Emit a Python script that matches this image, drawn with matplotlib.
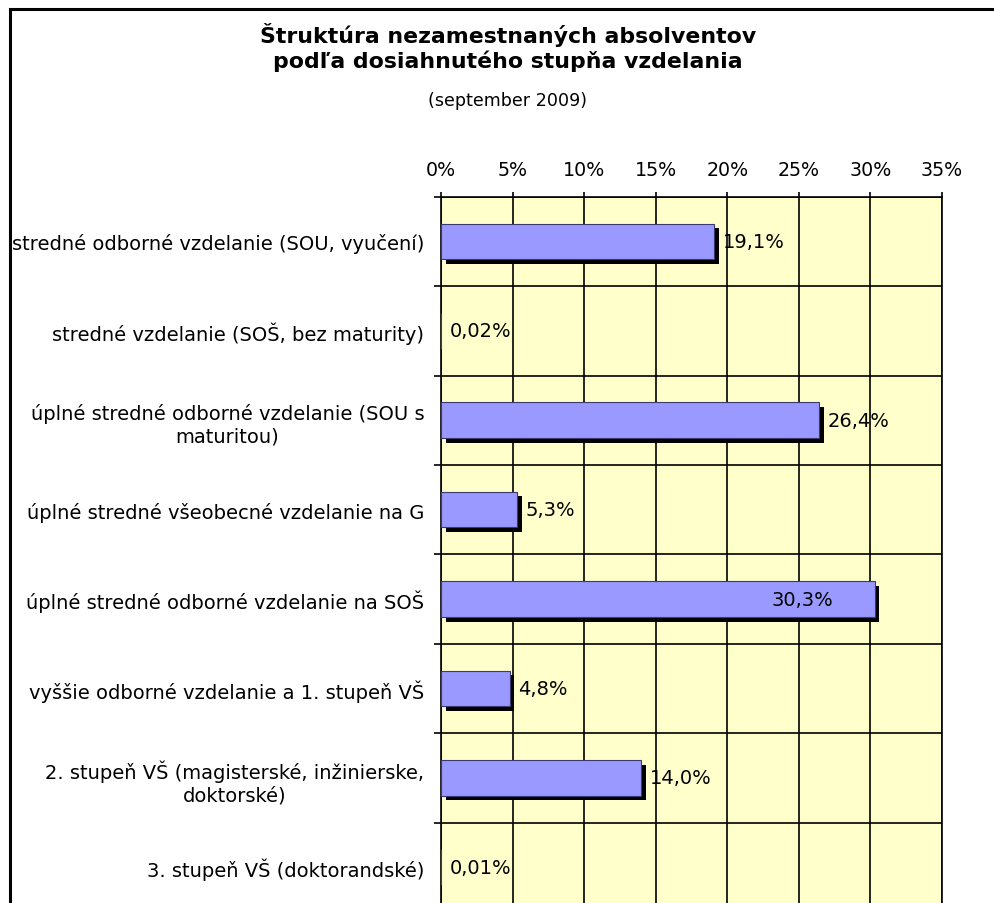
import matplotlib
matplotlib.use("Agg")
import matplotlib.pyplot as plt
import matplotlib.patheffects as pe
from matplotlib.patches import Rectangle
from matplotlib.ticker import FixedLocator, FuncFormatter
import numpy as np

plt.rcParams['font.family'] = ['DejaVu Sans']

categories = [
    "stredné odborné vzdelanie (SOU, vyučení)",
    "stredné vzdelanie (SOŠ, bez maturity)",
    "úplné stredné odborné vzdelanie (SOU s\nmaturitou)",
    "úplné stredné všeobecné vzdelanie na G",
    "úplné stredné odborné vzdelanie na SOŠ",
    "vyššie odborné vzdelanie a 1. stupeň VŠ",
    "2. stupeň VŠ (magisterské, inžinierske,\ndoktorské)",
    "3. stupeň VŠ (doktorandské)",
]
values = [19.1, 0.02, 26.4, 5.3, 30.3, 4.8, 14.0, 0.01]
x_ticks = [0, 5, 10, 15, 20, 25, 30, 35]

title1 = "Štruktúra nezamestnaných absolventov"
title2 = "podľa dosiahnutého stupňa vzdelania"
subtitle = "(september 2009)"

W, H = 994, 904
fig = plt.figure(figsize=(W / 100, H / 100), dpi=100)
fig.patch.set_facecolor("white")

# axes geometry (pixels)
ax_left, ax_right = 441, 942
ax_top = 197.7
band = 89.4
ax_bottom = ax_top + band * len(categories)
ax = fig.add_axes([ax_left / W, 1 - ax_bottom / H,
                   (ax_right - ax_left) / W, (ax_bottom - ax_top) / H])
ax.set_facecolor("#FFFFCC")

n = len(categories)
y = np.arange(n)
bars = ax.barh(y, values, height=0.4, color="#9999FF", edgecolor="#3A3A70",
               linewidth=0.8, zorder=3)
for b in bars:
    b.set_path_effects([pe.SimplePatchShadow(offset=(3.4, -3.4), shadow_rgbFace="black", alpha=1.0),
                        pe.Normal()])

ax.set_xlim(0, 35)
ax.set_ylim(n - 0.5, -0.5)

# x axis on top
ax.xaxis.set_ticks_position("top")
ax.xaxis.set_label_position("top")
ax.set_xticks(x_ticks)
ax.xaxis.set_major_formatter(FuncFormatter(lambda v, p: f"{int(v)}%"))
ax.tick_params(axis="x", which="major", direction="out", length=3.5, width=1.2,
               pad=9.5, labelsize=13.7, colors="black")

# y axis: boundaries as major ticks, labels on minor ticks
ax.yaxis.set_major_locator(FixedLocator(np.arange(-0.5, n + 0.5, 1.0)))
ax.yaxis.set_major_formatter(FuncFormatter(lambda v, p: ""))
ax.yaxis.set_minor_locator(FixedLocator(y))
ax.set_yticklabels(categories, minor=True)
ax.tick_params(axis="y", which="major", direction="out", length=5, width=1.2)
ax.tick_params(axis="y", which="minor", length=0, pad=12, labelsize=14)
for t in ax.yaxis.get_minorticklabels():
    t.set_multialignment("center")
    t.set_linespacing(1.25)

ax.grid(True, which="major", color="black", linewidth=1.2)
ax.set_axisbelow(True)
for s in ["top", "left", "right"]:
    ax.spines[s].set_color("black")
    ax.spines[s].set_linewidth(1.2)
ax.spines["bottom"].set_visible(False)

# value labels
vmax = max(values)
for yi, v in zip(y, values):
    txt = (f"{v:.2f}" if v < 1 else f"{v:.1f}").replace(".", ",") + "%"
    if v == vmax:
        ax.annotate(txt, (v, yi), xytext=(-30, 0), textcoords="offset points",
                    ha="right", va="center", fontsize=14, zorder=5)
    else:
        ax.annotate(txt, (v, yi), xytext=(6, 0), textcoords="offset points",
                    ha="left", va="center", fontsize=14, zorder=5)

# titles
cx = 508 / W
fig.text(cx, 1 - 43 / H, title1, ha="center", va="baseline", fontsize=15.8, fontweight="bold")
fig.text(cx, 1 - 68 / H, title2, ha="center", va="baseline", fontsize=15.8, fontweight="bold")
fig.text(cx, 1 - 106 / H, subtitle, ha="center", va="baseline", fontsize=12.6)

# outer chart border (cut by the image on the right and bottom)
fig.add_artist(Rectangle((9.5 / W, -0.2), 1.3, 0.2 + (1 - 10 / H), transform=fig.transFigure,
                         fill=False, edgecolor="black", linewidth=2.2, clip_on=False))

fig.savefig("out.png", dpi=100)
